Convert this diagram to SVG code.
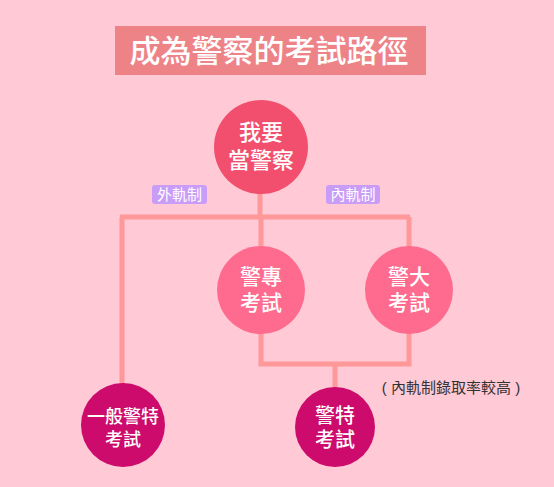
<svg xmlns="http://www.w3.org/2000/svg" width="554" height="487" viewBox="0 0 554 487">
<style>
.bg{fill:#FFC9D6}
.ln{stroke:#FF9898;stroke-width:5;fill:none}
.t{font-family:"Liberation Sans","Noto Sans CJK TC","Noto Sans CJK SC",sans-serif;fill:#fff;text-anchor:middle;font-weight:500}
.tag{fill:#C99CF8}
.tg{font-size:15px;font-weight:400}
</style>
<rect class="bg" x="0" y="0" width="554" height="487"/>
<g id="title">
<rect x="115" y="26" width="311" height="49" fill="#EE8387"/>
<text class="t" x="269" y="62" font-size="31" font-weight="400">成為警察的考試路徑</text>
</g>
<g id="connectors">
<path class="ln" d="M260 190V217M120 217H410M122 217V390M261 217V250M409 217V250"/>
<path class="ln" d="M261 330V364H409V330M335 364V390"/>
</g>
<g id="root">
<circle cx="261" cy="147" r="47" fill="#F24F6E"/>
<text class="t" font-size="22"><tspan x="261" y="140">我要</tspan><tspan x="261" y="168">當警察</tspan></text>
</g>
<g id="tag-outer">
<rect class="tag" x="152" y="185" width="55" height="19" rx="3"/>
<text class="t tg" x="179.5" y="200">外軌制</text>
</g>
<g id="tag-inner">
<rect class="tag" x="326" y="185" width="54" height="19" rx="3"/>
<text class="t tg" x="353" y="200">內軌制</text>
</g>
<g id="police-college">
<circle cx="261" cy="290" r="44" fill="#FF6B8E"/>
<text class="t" font-size="21"><tspan x="261" y="284">警專</tspan><tspan x="261" y="310">考試</tspan></text>
</g>
<g id="police-univ">
<circle cx="409" cy="290" r="44" fill="#FF6B8E"/>
<text class="t" font-size="21"><tspan x="409" y="284">警大</tspan><tspan x="409" y="310">考試</tspan></text>
</g>
<g id="general-exam">
<circle cx="123" cy="425" r="42" fill="#CC0B6C"/>
<text class="t" font-size="18"><tspan x="123" y="423">一般警特</tspan><tspan x="123" y="446">考試</tspan></text>
</g>
<g id="special-exam">
<circle cx="335" cy="427" r="40" fill="#CC0B6C"/>
<text class="t" font-size="20"><tspan x="335" y="423">警特</tspan><tspan x="335" y="447">考試</tspan></text>
</g>
<g id="note">
<text x="451" y="393" font-family="Liberation Sans,Noto Sans CJK TC,sans-serif" font-size="15" fill="#333" text-anchor="middle">( 內軌制錄取率較高 )</text>
</g>
</svg>
